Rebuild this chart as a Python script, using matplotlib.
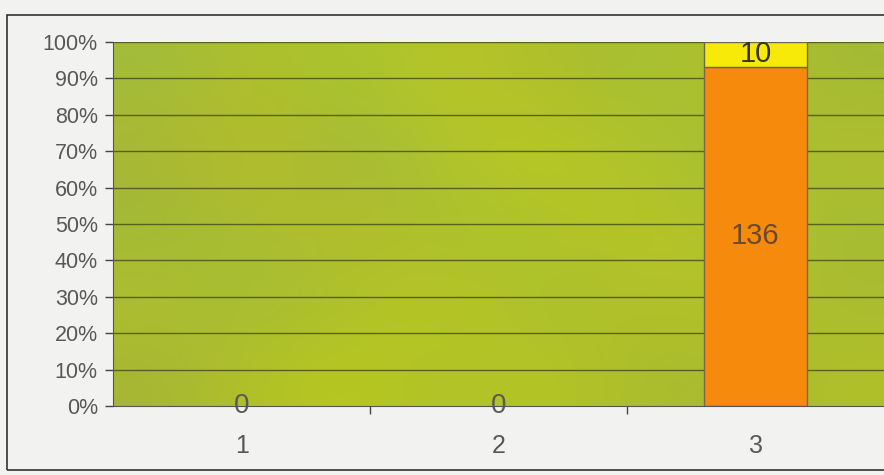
import matplotlib.pyplot as plt
import numpy as np
from matplotlib.colors import to_rgb
from matplotlib.patches import Rectangle
from matplotlib.ticker import PercentFormatter

plt.rcParams["font.family"] = ["Liberation Sans", "DejaVu Sans"]

# counts per group, stacked to 100 %
categories = ["1", "2", "3"]
lower_counts = [0, 0, 136]
upper_counts = [0, 0, 10]

LOWER_COLOR = "#f58a0c"
UPPER_COLOR = "#f7ea08"
GRID_COLOR = "#56621c"
TEXT_GRAY = "#585858"

# mottled plot-area fill, a coarse colour grid smoothed by imshow
fill_grid = [
    ["#a2bc3c", "#b0c02a", "#a8c430", "#b9c626", "#aebe2c", "#a6c034", "#b2c22a", "#a4ba36"],
    ["#aab832", "#b8bc28", "#a0ba3c", "#b2c62a", "#bcc820", "#aac230", "#a8be34", "#b0c02c"],
    ["#a0b83a", "#acc02e", "#b4bc2a", "#a6c034", "#b0c426", "#b8c624", "#aec22e", "#a6bc34"],
    ["#b0c02c", "#a4bc38", "#aec22c", "#bcc620", "#a8c030", "#b2c02a", "#b6c424", "#aabc30"],
    ["#a6b636", "#b2c226", "#b8c81e", "#aec22a", "#b6c622", "#aabc2e", "#a8bc32", "#b0c02a"],
]
fill_rgb = np.array([[to_rgb(c) for c in row] for row in fill_grid])

fig = plt.figure(figsize=(8.84, 4.75), dpi=100, facecolor="#f2f2f0")
ax = fig.add_axes([0.128, 0.145, 0.872, 0.767])

x = np.arange(1, len(categories) + 1)
totals = np.array(lower_counts) + np.array(upper_counts)
safe = np.where(totals == 0, 1, totals)
lower_share = np.array(lower_counts) / safe
upper_share = np.array(upper_counts) / safe
edge_w = np.where(totals == 0, 0.0, 1.0)

ax.imshow(fill_rgb, extent=(0.5, 3.5, 0, 1), aspect="auto",
          interpolation="bicubic", zorder=0)
ax.set_xlim(0.5, 3.5)
ax.set_ylim(0, 1)

for yv in np.arange(0.1, 1.01, 0.1):
    ax.axhline(yv, color=GRID_COLOR, lw=1.0, zorder=1)

ax.bar(x, lower_share, width=0.4, color=LOWER_COLOR,
       edgecolor="#7a6a4a", linewidth=edge_w, zorder=2)
ax.bar(x, upper_share, width=0.4, bottom=lower_share, color=UPPER_COLOR,
       edgecolor="#6a6a4a", linewidth=edge_w, zorder=2)

for xi, lo, up, lo_s, up_s in zip(x, lower_counts, upper_counts,
                                  lower_share, upper_share):
    if lo + up == 0:
        ax.text(xi, 0.0, "0", ha="center", va="center", fontsize=20,
                color="#5a5a50", zorder=3)
        continue
    ax.text(xi, lo_s / 2, str(lo), ha="center", va="center", fontsize=21,
            color="#6a4a2c", zorder=3)
    ax.text(xi, lo_s + up_s / 2, str(up), ha="center", va="center",
            fontsize=21, color="#333333", zorder=3)

ax.yaxis.set_major_formatter(PercentFormatter(1.0, decimals=0))
ax.set_yticks(np.arange(0, 1.01, 0.1))
ax.set_xticks(x)
ax.set_xticklabels(categories)
ax.set_xticks([1.5, 2.5], minor=True)
ax.tick_params(axis="y", labelsize=15.5, labelcolor=TEXT_GRAY, length=6,
               width=1, color="#444444", pad=5)
ax.tick_params(axis="x", which="major", length=0, labelsize=18,
               labelcolor=TEXT_GRAY, pad=20)
ax.tick_params(axis="x", which="minor", length=6, width=1,
               color="#444444", direction="out")

for side in ("top", "right"):
    ax.spines[side].set_visible(False)
ax.spines["left"].set_color("#555555")
ax.spines["bottom"].set_color("#555555")

# outer chart frame
fig.patches.append(Rectangle((0.008, 0.01), 1.2, 0.958, transform=fig.transFigure,
                             fill=False, edgecolor="#333333", lw=1.2))

fig.savefig("out.png", dpi=100, facecolor=fig.get_facecolor())
